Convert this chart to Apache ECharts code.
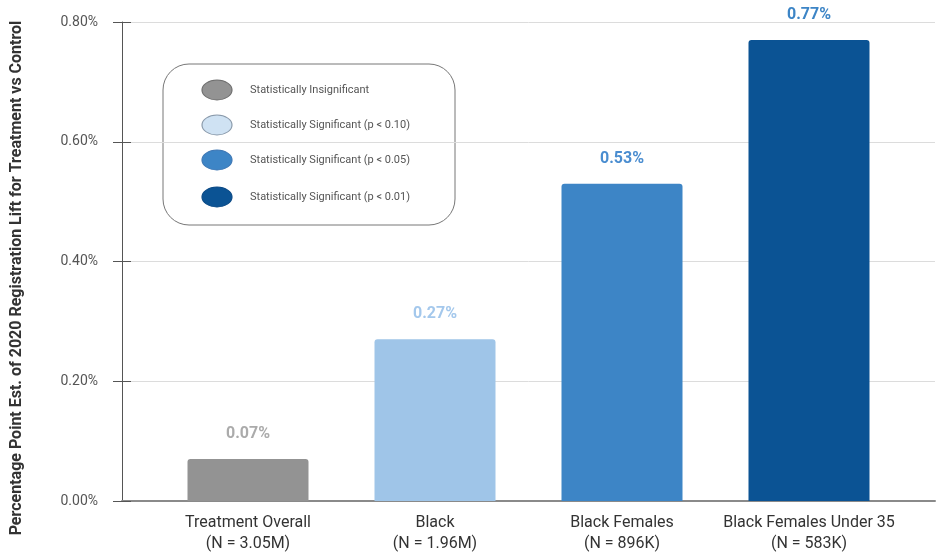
<!DOCTYPE html>
<html>
<head>
<meta charset="utf-8">
<script src="https://cdn.jsdelivr.net/npm/echarts@6/dist/echarts.min.js"></script>
<style>
  html, body { margin: 0; padding: 0; background: #fff; }
  #chart { width: 938px; height: 554px; }
</style>
</head>
<body>
<div id="chart"></div>
<script>
// Groups and sample sizes
const categories = ['Treatment Overall', 'Black', 'Black Females', 'Black Females Under 35'];
const sampleSizes = ['N = 3.05M', 'N = 1.96M', 'N = 896K', 'N = 583K'];
// Estimated registration lift, in percentage points
const liftValues = [0.07, 0.27, 0.53, 0.77];
// Significance level of each estimate (index into significanceLevels)
const significance = [0, 1, 2, 3];
const significanceLevels = [
  'Statistically Insignificant',
  'Statistically Significant (p < 0.10)',
  'Statistically Significant (p < 0.05)',
  'Statistically Significant (p < 0.01)'
];
const yTicks = [0, 0.2, 0.4, 0.6, 0.8];

const barColors = ['#939393', '#9fc5e8', '#3d85c6', '#0b5394'];
const labelColors = ['#ababab', '#a4c8ec', '#4a8dd0', '#3d85c6'];
const legendFill = ['#939393', '#cfe2f3', '#3d85c6', '#0b5394'];
const legendStroke = ['#6f6f6f', '#8a9aab', '#3f78b5', '#0b4a86'];

const chart = echarts.init(document.getElementById('chart'), null, { renderer: 'canvas' });
const FONT = 'Roboto, "Liberation Sans", sans-serif';

const legendItems = [];
const legendY = [90, 125, 160, 197];
significanceLevels.forEach((txt, i) => {
  legendItems.push({
    type: 'circle',
    x: 217, y: legendY[i], scaleX: 1.5, scaleY: 1,
    shape: { cx: 0, cy: 0, r: 10 },
    style: { fill: legendFill[i], stroke: legendStroke[i], lineWidth: 0.8 }
  });
  legendItems.push({
    type: 'text',
    x: 250, y: legendY[i],
    style: { text: txt, fill: '#555', font: '11px ' + FONT, textVerticalAlign: 'middle' }
  });
});

const yMin = yTicks[0], yMax = yTicks[yTicks.length - 1], yStep = yTicks[1] - yTicks[0];

chart.setOption({
  animation: false,
  backgroundColor: '#fff',
  grid: [
    { left: 122, right: 3, top: 22, bottom: 53, containLabel: false },
    { left: 154.5, right: 35.5, top: 22, bottom: 53, containLabel: false }
  ],
  xAxis: [
    {
      gridIndex: 0, type: 'category', data: categories,
      axisLine: { show: true, lineStyle: { color: '#8a8a8a', width: 2 } },
      axisTick: { show: false }, axisLabel: { show: false }
    },
    {
      gridIndex: 1, type: 'category', data: categories,
      axisLine: { show: false }, axisTick: { show: false },
      axisLabel: {
        interval: 0,
        margin: 11, color: '#333', fontFamily: FONT, fontSize: 16, lineHeight: 21,
        formatter: (v, i) => v + '\n(' + sampleSizes[i] + ')'
      }
    }
  ],
  yAxis: [
    {
      gridIndex: 0, type: 'value', min: yMin, max: yMax, interval: yStep,
      axisLine: { show: true, lineStyle: { color: '#555', width: 1 } },
      axisTick: { show: true, length: 9, lineStyle: { color: '#555' } },
      splitLine: { lineStyle: { color: '#dcdcdc', width: 1 } },
      axisLabel: {
        margin: 24, color: '#555', fontFamily: FONT, fontSize: 14,
        formatter: v => v.toFixed(2) + '%'
      }
    },
    {
      gridIndex: 1, type: 'value', min: yMin, max: yMax, interval: yStep,
      show: false
    },
    {
      // inner half of the cross-shaped ticks on the value axis
      gridIndex: 0, type: 'value', position: 'left', min: yMin, max: yMax, interval: yStep,
      axisLine: { show: false },
      axisTick: { show: true, inside: true, length: 9, lineStyle: { color: '#555' } },
      axisLabel: { show: false },
      splitLine: { show: false }
    }
  ],
  series: [{
    type: 'bar',
    xAxisIndex: 1, yAxisIndex: 1,
    barWidth: 121,
    data: liftValues.map((v, i) => ({
      value: v,
      itemStyle: { color: barColors[significance[i]], borderRadius: [3, 3, 0, 0] },
      label: { color: labelColors[significance[i]] }
    })),
    label: {
      show: true, position: 'top', distance: 17,
      fontFamily: FONT, fontWeight: 'bold', fontSize: 16,
      formatter: p => p.value.toFixed(2) + '%'
    }
  }],
  graphic: [
    {
      type: 'text',
      x: 17, y: 278, rotation: Math.PI / 2,
      style: {
        text: 'Percentage Point Est. of 2020 Registration Lift for Treatment vs Control',
        fill: '#333', font: 'bold 16px ' + FONT,
        textAlign: 'center', textVerticalAlign: 'middle'
      }
    },
    {
      type: 'rect',
      shape: { x: 163, y: 64, width: 292, height: 161, r: 26 },
      style: { fill: '#fff', stroke: '#777', lineWidth: 1 }
    },
    ...legendItems
  ]
});
</script>
</body>
</html>
